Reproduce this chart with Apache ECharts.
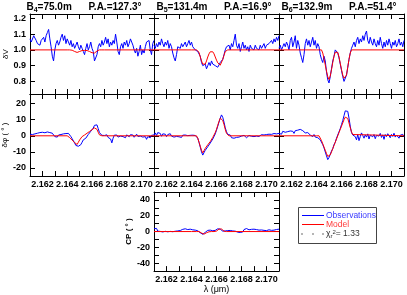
<!DOCTYPE html>
<html><head><meta charset="utf-8">
<script src="https://cdn.jsdelivr.net/npm/echarts@6/dist/echarts.min.js"></script>
<style>html,body{margin:0;padding:0;background:#fff}#c{width:407px;height:295px}</style>
</head><body><div id="c"></div>
<script>
// ---- data ----
const WAVE = [2.1610,2.1611,2.1612,2.1613,2.1614,2.1615,2.1616,2.1617,2.1618,2.1619,
2.1620,2.1621,2.1622,2.1623,2.1624,2.1625,2.1626,2.1627,2.1628,2.1629,
2.1630,2.1631,2.1632,2.1633,2.1634,2.1635,2.1636,2.1637,2.1638,2.1639,
2.1640,2.1641,2.1642,2.1643,2.1644,2.1645,2.1646,2.1647,2.1648,2.1649,
2.1650,2.1651,2.1652,2.1653,2.1654,2.1655,2.1656,2.1657,2.1658,2.1659,
2.1660,2.1661,2.1662,2.1663,2.1664,2.1665,2.1666,2.1667,2.1668,2.1669,
2.1670,2.1671,2.1672,2.1673,2.1674,2.1675,2.1676,2.1677,2.1678,2.1679,
2.1680,2.1681,2.1682,2.1683,2.1684,2.1685,2.1686,2.1687,2.1688,2.1689,
2.1690,2.1691,2.1692,2.1693,2.1694,2.1695,2.1696,2.1697,2.1698,2.1699,
2.1700,2.1701,2.1702,2.1703,2.1704,2.1705,2.1706,2.1707,2.1708,2.1709,2.1710];

const MODEL_WAVE = [2.1610,
2.1640,2.1641,2.1642,2.1643,2.1644,2.1645,2.1646,2.1647,2.1648,2.1649,
2.1650,2.1651,2.1652,2.1653,2.1654,2.1655,2.1656,2.1657,2.1658,2.1659,
2.1660,2.1661,2.1662,2.1663,2.1664,2.1665,2.1666,2.1667,2.1668,2.1669,2.1670,
2.1710];

const X_TICKS = [2.162,2.163,2.164,2.165,2.166,2.167,2.168,2.169,2.170];
const X_LABELS = [2.162,2.164,2.166,2.168,2.170];
const DV_TICKS = [0.8,0.9,1.0,1.1,1.2];
const DP_TICKS = [-20,-10,0,10,20];
const CP_TICKS = [-40,-30,-20,-10,0,10,20,30,40];
const CP_LABELS = [-40,-20,0,20,40];

const BASE_ID = ['4','5','6'];
const BASE_LEN = ['75.0','131.4','132.9'];
const BASE_PA = ['127.3','16.9','51.4'];

const DV_OBS_B4 = [1.07,1.05,1.06,1.09,1.10,1.06,1.04,1.05,1.03,1.06,
1.07,1.08,1.05,1.09,1.11,1.13,1.07,1.02,0.96,0.93,
1.00,1.04,1.06,1.03,1.05,1.08,1.10,1.06,1.09,1.04,
1.07,1.05,1.03,1.06,1.02,1.04,1.01,1.03,1.05,1.02,
1.00,1.03,1.01,0.99,0.97,1.01,1.04,1.00,1.02,1.05,
1.01,0.99,0.93,0.92,0.97,1.02,1.04,1.02,1.06,1.03,
1.05,1.08,1.04,1.07,1.02,1.05,1.03,1.06,1.04,1.10,
1.05,0.99,0.97,1.02,1.04,1.01,1.05,1.03,1.06,1.02,
1.04,1.07,1.08,1.03,1.00,0.98,1.01,0.96,0.99,1.03,
0.97,1.00,0.98,1.02,1.05,1.04,1.06,1.00,0.97,1.04,1.06];
const DV_OBS_B5 = [1.03,1.01,1.04,1.02,1.05,1.03,1.07,1.04,1.02,1.05,
1.03,1.06,1.01,1.04,1.02,0.98,0.95,0.93,0.97,1.02,
1.03,1.01,1.04,1.02,1.03,1.05,1.02,1.04,1.06,1.03,
1.05,1.02,1.03,1.00,1.01,0.99,1.00,0.96,0.92,0.90,
0.89,0.91,0.88,0.90,0.92,0.90,0.93,0.91,0.92,0.90,
0.91,0.89,0.90,0.92,0.91,0.94,0.97,1.00,1.02,1.01,
1.03,1.00,1.04,1.02,1.06,1.10,1.03,1.01,1.04,0.99,
1.02,1.05,1.01,1.03,1.00,1.02,0.99,1.03,1.01,1.02,
1.00,1.03,1.01,1.02,1.00,1.03,1.01,1.02,1.04,1.01,
1.03,1.02,1.04,1.03,1.06,1.04,1.07,1.05,1.08,1.06,1.09];
const DV_OBS_B6 = [1.01,1.03,1.00,1.02,1.04,1.02,1.05,1.03,1.00,1.06,
1.08,1.02,1.05,1.09,1.01,1.06,1.03,0.98,0.95,0.92,
0.97,1.04,1.07,1.03,1.06,1.02,1.05,1.08,1.03,1.06,
1.01,1.04,1.02,0.97,0.94,0.92,0.96,0.93,0.86,0.81,
0.79,0.83,0.88,0.93,0.96,1.00,0.99,0.98,0.95,0.91,
0.87,0.83,0.80,0.79,0.84,0.89,0.94,0.98,1.01,1.03,
1.05,1.02,1.06,1.08,1.04,1.07,1.05,1.09,1.06,1.10,
1.12,1.06,1.04,1.08,1.05,1.03,1.07,1.04,1.02,1.06,
1.03,1.08,1.04,1.01,1.05,1.02,1.06,1.03,1.07,1.04,
1.01,1.05,1.03,1.06,1.02,1.04,1.07,1.03,1.05,1.02,1.06];

const DV_MODEL_B4 = [1.0,
1.0,1.0,1.0,1.0,0.998,0.995,0.99,0.986,0.984,0.985,
0.99,0.994,0.996,0.997,0.997,0.997,0.996,0.994,0.99,0.986,
0.982,0.98,0.98,0.986,0.993,0.998,1.0,1.0,1.0,1.0,1.0,
1.0];
const DV_MODEL_B5 = [1.0,
1.0,1.0,1.0,1.0,1.0,1.0,0.985,0.955,0.93,0.91,
0.903,0.91,0.93,0.955,0.975,0.988,0.992,0.988,0.975,0.955,
0.935,0.918,0.906,0.903,0.915,0.94,0.965,0.99,1.0,1.0,1.0,
1.0];
const DV_MODEL_B6 = [1.0,
1.0,1.0,1.0,1.0,1.0,0.98,0.945,0.905,0.865,0.83,
0.812,0.835,0.875,0.92,0.96,0.985,0.995,0.985,0.955,0.915,
0.875,0.84,0.82,0.812,0.84,0.89,0.94,0.98,1.0,1.0,1.0,
1.0];

const DP_OBS_B4 = [1.0,1.5,0.8,1.8,1.2,0.5,1.6,1.0,2.0,1.4,
2.2,1.5,1.9,1.1,2.4,1.7,2.0,1.2,1.6,0.9,
-0.5,0.2,-0.8,0.5,-0.3,0.8,1.5,1.2,2.0,1.4,
2.2,1.5,0.6,-0.5,-1.8,-3.0,-4.5,-6.0,-7.2,-6.5,
-7.0,-5.5,-4.0,-2.5,-3.2,-1.5,-0.6,0.8,1.5,2.8,
3.5,4.8,6.5,7.5,6.8,4.5,2.0,0.8,0.3,1.0,
0.2,-0.5,0.6,-1.0,-0.3,-2.0,-4.4,-1.5,0.4,-0.6,
0.5,-0.8,0.3,-0.2,0.8,-0.5,0.4,-1.2,0.6,0.1,
-0.6,0.7,-0.3,0.5,-0.9,0.3,1.0,-0.4,0.6,-0.2,
0.5,-0.8,0.2,-0.5,-2.2,-0.5,0.6,-1.2,0.3,0.8,0.5];
const DP_OBS_B5 = [0.5,1.8,0.2,2.0,0.8,1.5,-0.3,1.2,0.4,1.0,
-0.5,0.8,0.2,1.3,-0.2,0.6,-0.8,0.3,-0.4,0.7,
-0.6,0.2,-1.0,0.4,-0.3,0.5,-0.5,0.1,-0.8,0.3,
-0.2,0.4,-0.6,0.2,-1.0,-1.5,-4.0,-7.0,-10.0,-12.0,
-10.5,-9.0,-8.0,-6.8,-5.8,-4.5,-3.5,-2.0,-0.5,1.2,
3.5,6.0,8.5,11.0,13.0,11.5,8.5,5.0,2.5,0.8,
-0.3,0.5,-1.2,-0.4,-1.5,-0.5,-1.0,0.2,-0.8,-1.3,
-0.2,-1.0,0.3,-0.6,-1.2,-0.4,0.2,-0.9,-0.3,0.4,
-0.5,0.3,-0.2,0.6,-0.4,0.2,0.7,-0.3,0.5,0.1,
0.8,0.3,1.0,0.4,0.9,0.6,1.4,0.5,1.2,0.8,1.5];
const DP_OBS_B6 = [1.5,2.5,1.0,2.8,1.8,2.2,1.2,2.6,1.9,3.0,
2.0,2.8,1.5,3.2,2.4,3.5,2.8,4.0,5.0,3.2,
2.5,1.8,2.9,2.0,1.2,0.5,1.5,-0.5,0.8,-0.8,
0.3,-1.2,-0.5,-2.5,-3.5,-5.5,-7.5,-10.0,-12.5,-14.8,
-13.5,-11.5,-9.5,-8.0,-5.5,-4.0,-1.5,0.5,2.5,4.5,
7.0,9.5,12.5,15.5,15.8,15.2,11.0,6.0,2.0,0.5,
1.5,-0.5,-2.5,0.8,-3.0,-0.5,1.8,0.2,-1.5,0.6,
-0.8,1.2,-2.0,0.4,1.5,-0.6,0.8,-1.8,0.3,1.2,
-0.2,1.5,-1.0,0.6,-2.2,0.8,-0.5,1.3,0.2,-1.2,
0.9,-0.4,1.6,-0.8,0.5,1.1,-1.5,0.4,-0.2,0.9,-0.5];

const DP_MODEL_B4 = [0,
0,-0.3,-1.1,-1.9,-2.7,-3.5,-4.2,-4.9,-5.4,-4.0,
-2.6,-1.4,-0.5,0,0.5,1.1,1.6,2.2,2.7,3.2,
3.8,4.3,4.9,5.4,4.0,2.2,0.6,0,0,0,0,
0];
const DP_MODEL_B5 = [0,
0,0,0,0,0,-1.5,-4.0,-6.5,-9.0,-10.6,
-9.2,-7.8,-6.6,-5.6,-4.7,-3.6,-2.4,-1.0,0.5,2.0,
4.0,6.5,9.0,11.0,11.9,9.5,7.0,4.0,1.5,0.3,0,
0];
const DP_MODEL_B6 = [0,
0,0,0,-1.2,-3.0,-5.0,-7.0,-9.0,-11.0,-12.8,
-13.8,-11.9,-10.0,-8.0,-6.0,-4.0,-2.0,0,2.0,4.0,
6.0,8.0,10.0,11.6,12.7,10.8,8.0,5.0,2.5,0.8,0,
0];

const CP_OBS = [3.5,1.0,4.0,0.5,2.5,0.2,1.5,-0.5,1.0,0.3,
1.2,-0.3,0.8,0.2,1.5,-0.2,1.0,0.4,-0.5,0.8,
0.2,1.3,0.5,2.8,1.0,3.5,1.2,2.5,0.6,3.0,
1.5,2.2,0.5,1.8,0.3,1.0,-0.5,-1.5,-3.0,-3.5,
-2.5,-1.0,0.5,1.5,0.2,1.8,2.5,1.0,0.3,1.5,
2.0,3.5,4.2,3.0,1.5,0.5,1.8,0.8,2.5,1.2,
0.2,1.4,-0.5,0.8,-1.5,0.5,-2.0,-0.8,-3.0,-1.2,
0.5,-0.5,2.5,1.0,3.8,1.5,2.2,0.8,2.8,1.2,
3.0,1.0,2.5,3.5,1.8,0.8,2.0,0.5,1.5,-0.3,
1.2,0.4,2.2,0.6,1.5,0.2,1.8,0.5,2.6,1.0,3.0];
const CP_MODEL = [0,
0,0,0,0,0,0,0,-0.8,-1.8,-2.8,
-3.3,-2.5,-1.5,-0.8,-0.3,0,0,0,0,0.2,
0.6,1.6,3.2,4.5,3.2,1.6,0.5,0,0,0,0,
0];

const CHI2 = '1.33';

// ---- build ----
const FONT = 'Liberation Sans, Arial, Helvetica, sans-serif';
const BLUE = '#0000ff', RED = '#ff0000';
const grids = [], xAxes = [], yAxes = [], series = [];

function addPanel(p){
  const g = grids.length;
  grids.push({left:p.left, top:p.top, width:p.width, height:p.height, show:false});
  const line = {show:true, onZero:false, lineStyle:{color:'#000', width:1}};
  const tick = (vals) => ({show:true, inside:true, length:5, customValues:vals, lineStyle:{color:'#000', width:1}});
  const lab = {color:'#000', fontSize:9, fontWeight:'bold', fontFamily:FONT, showMinLabel:true, showMaxLabel:true};
  const xBase = {type:'value', gridIndex:g, min:2.161, max:2.171, interval:0.001,
    axisLine:line, axisTick:tick(X_TICKS), splitLine:{show:false}};
  xAxes.push(Object.assign({}, xBase, {position:'bottom',
    axisLabel: p.xLabels ? Object.assign({show:true, margin:4, customValues:X_LABELS,
      formatter: v => Number(v).toFixed(3)}, lab) : {show:false},
    name: p.xName || '', nameLocation:'middle', nameGap:13,
    nameTextStyle:{color:'#000', fontSize:9, fontFamily:FONT}}));
  xAxes.push(Object.assign({}, xBase, {position:'top', axisLabel:{show:false}}));
  const yBase = {type:'value', gridIndex:g, min:p.ymin, max:p.ymax, splitLine:{show:false},
    axisLine:line, axisTick:tick(p.yTicks)};
  yAxes.push(Object.assign({}, yBase, {position:'left',
    axisLabel: p.yLabels ? Object.assign({show:true, margin:4, customValues:p.yLabelVals, formatter:p.yFmt}, lab) : {show:false},
    name: p.yName || '', nameLocation:'middle', nameGap:p.nameGap || 16,
    nameTextStyle: Object.assign({color:'#000', fontSize:8, fontFamily:FONT}, p.nameBold ? {fontWeight:'bold'} : {})}));
  yAxes.push(Object.assign({}, yBase, {position:'right', axisLabel:{show:false}}));
  series.push({type:'line', xAxisIndex:2*g, yAxisIndex:2*g, symbol:'none', silent:true, z:2,
    lineStyle:{color:BLUE, width:1}, data: WAVE.map((w,i)=>[w, p.obs[i]])});
  series.push({type:'line', xAxisIndex:2*g, yAxisIndex:2*g, symbol:'none', silent:true, z:3,
    lineStyle:{color:RED, width:1}, data: MODEL_WAVE.map((w,i)=>[w, p.model[i]])});
}

const COLS = [[30,124],[154,125],[279,125]];
const dvFmt = v => Number(v).toFixed(1);
const intFmt = v => String(Math.round(v));

const DV_OBS = [DV_OBS_B4, DV_OBS_B5, DV_OBS_B6];
const DV_MODEL = [DV_MODEL_B4, DV_MODEL_B5, DV_MODEL_B6];
const DP_OBS = [DP_OBS_B4, DP_OBS_B5, DP_OBS_B6];
const DP_MODEL = [DP_MODEL_B4, DP_MODEL_B5, DP_MODEL_B6];

for (let c=0;c<3;c++){
  addPanel({left:COLS[c][0], top:14, width:COLS[c][1], height:80, ymin:0.72, ymax:1.228,
    yTicks:DV_TICKS, yLabelVals:DV_TICKS, yLabels:c===0, yFmt:dvFmt, yName:c===0?'δV':'', nameGap:13,
    obs:DV_OBS[c], model:DV_MODEL[c]});
}
for (let c=0;c<3;c++){
  addPanel({left:COLS[c][0], top:94, width:COLS[c][1], height:82, ymin:-25, ymax:26,
    yTicks:DP_TICKS, yLabelVals:DP_TICKS, yLabels:c===0, yFmt:intFmt, xLabels:true,
    yName:c===0?'δφ ( ° )':'', nameGap:14, obs:DP_OBS[c], model:DP_MODEL[c]});
}
addPanel({left:154, top:192, width:125, height:81, ymin:-50, ymax:50,
  yTicks:CP_TICKS, yLabelVals:CP_LABELS, yLabels:true, yFmt:intFmt, xLabels:true, xName:'λ (μm)',
  yName:'CP ( ° )', nameGap:17, nameBold:true, obs:CP_OBS, model:CP_MODEL});

const titleCenters = [84, 214, 339];
const graphics = [];
for (let c=0;c<3;c++){
  graphics.push({type:'text', x:titleCenters[c], y:7, style:{
    text:'B{s|'+BASE_ID[c]+'}='+BASE_LEN[c]+'m      P.A.='+BASE_PA[c]+'°',
    fill:'#000', fontSize:10, fontWeight:'bold', fontFamily:FONT, align:'center', verticalAlign:'middle',
    rich:{s:{fontSize:7, fontWeight:'bold', fontFamily:FONT, fill:'#000', verticalAlign:'bottom', padding:[6,0,0,0]}}}});
}
// legend box
graphics.push({type:'rect', shape:{x:298.5, y:207.5, width:78, height:36}, style:{fill:'#fff', stroke:'#444', lineWidth:1}, z:10});
graphics.push({type:'line', shape:{x1:302, y1:215.5, x2:324, y2:215.5}, style:{stroke:BLUE, lineWidth:1}, z:11});
graphics.push({type:'text', x:326, y:215.5, style:{text:'Observations', fill:'#3a3aff', fontSize:8.5, fontFamily:FONT, verticalAlign:'middle'}, z:11});
graphics.push({type:'line', shape:{x1:302, y1:224.5, x2:324, y2:224.5}, style:{stroke:RED, lineWidth:1}, z:11});
graphics.push({type:'text', x:326, y:224.5, style:{text:'Model', fill:'#ff3a3a', fontSize:8.5, fontFamily:FONT, verticalAlign:'middle'}, z:11});
[302,313,323].forEach(x => graphics.push({type:'circle', shape:{cx:x, cy:234, r:0.7}, style:{fill:'#333'}, z:11}));
graphics.push({type:'text', x:326, y:234, style:{text:'χ{s|r}{p|2}= '+CHI2, fill:'#333', fontSize:8.5, fontFamily:FONT, verticalAlign:'middle',
  rich:{s:{fontSize:6, fill:'#333', fontFamily:FONT, verticalAlign:'bottom', padding:[4,0,0,0]}, p:{fontSize:6, fill:'#333', fontFamily:FONT, verticalAlign:'top', padding:[0,0,4,0]}}}, z:11});

const chart = echarts.init(document.getElementById('c'), null, {renderer:'canvas'});
chart.setOption({animation:false, backgroundColor:'#fff', grid:grids, xAxis:xAxes, yAxis:yAxes, series, graphic:graphics});
</script></body></html>
